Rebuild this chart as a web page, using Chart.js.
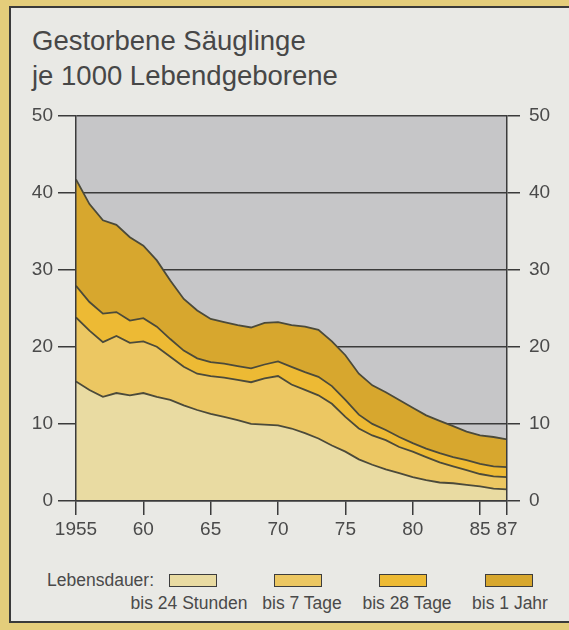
<!DOCTYPE html>
<html lang="de">
<head>
<meta charset="utf-8">
<title>Gestorbene Säuglinge je 1000 Lebendgeborene</title>
<script src="https://cdn.jsdelivr.net/npm/chart.js@4.4.1/dist/chart.umd.min.js"></script>
<style>
  html, body { margin: 0; padding: 0; overflow: hidden; }
  html, body { background: #e9e9e5; }
  body {
    width: 569px; height: 630px; position: relative;
    font-family: "Liberation Sans", Arial, sans-serif;
    color: #404040;
  }
  .strip { position: absolute; background: #e4cd7b; }
  #panel {
    position: absolute; left: 9px; top: 6px; width: 640px; height: 613px;
    background: #e9e9e5;
    border-left: 2px solid #3a3a3a; border-top: 2px solid #3a3a3a; border-bottom: 2px solid #3a3a3a;
  }
  #title {
    position: absolute; left: 32px; top: 23px;
    font-size: 27.5px; line-height: 35px; color: #474747;
  }
  #chart { position: absolute; left: 0; top: 95px; }
  .leg { position: absolute; font-size: 17.5px; color: #4a4a4a; white-space: nowrap; }
  .box { position: absolute; height: 11px; border: 1.5px solid #3d3d3d; }
</style>
</head>
<body>
<div class="strip" style="left:0;top:0;width:700px;height:6px"></div>
<div class="strip" style="left:0;top:0;width:9px;height:700px"></div>
<div class="strip" style="left:0;top:621px;width:700px;height:80px"></div>
<div id="panel"></div>
<div id="title">Gestorbene Säuglinge<br>je 1000 Lebendgeborene</div>
<canvas id="chart" width="569" height="450"></canvas>
<div id="legend"></div>

<script>
// --- Daten (Gestorbene je 1000 Lebendgeborene, kumuliert nach Lebensdauer) ---
const years = [1955, 1956, 1957, 1958, 1959, 1960, 1961, 1962, 1963, 1964, 1965,
               1966, 1967, 1968, 1969, 1970, 1971, 1972, 1973, 1974, 1975, 1976,
               1977, 1978, 1979, 1980, 1981, 1982, 1983, 1984, 1985, 1986, 1987];

const bis24Stunden = [15.5, 14.4, 13.5, 14.0, 13.7, 14.0, 13.5, 13.1, 12.4, 11.8, 11.3,
                      10.9, 10.5, 10.0, 9.9, 9.8, 9.4, 8.8, 8.1, 7.2, 6.4, 5.4,
                      4.7, 4.1, 3.6, 3.1, 2.7, 2.4, 2.3, 2.1, 1.9, 1.6, 1.5];
const bis7Tage = [23.8, 22.1, 20.6, 21.4, 20.5, 20.7, 20.0, 18.7, 17.4, 16.5, 16.2,
                  16.0, 15.7, 15.4, 15.9, 16.2, 15.1, 14.4, 13.7, 12.6, 10.9, 9.4,
                  8.5, 7.9, 7.0, 6.4, 5.7, 5.0, 4.5, 4.0, 3.5, 3.2, 3.1];
const bis28Tage = [27.9, 25.8, 24.3, 24.5, 23.4, 23.7, 22.6, 21.0, 19.5, 18.5, 18.0,
                   17.8, 17.5, 17.2, 17.7, 18.1, 17.4, 16.7, 16.1, 14.9, 13.1, 11.2,
                   10.0, 9.2, 8.3, 7.5, 6.8, 6.2, 5.7, 5.3, 4.8, 4.5, 4.4];
const bis1Jahr = [41.7, 38.5, 36.4, 35.8, 34.2, 33.1, 31.2, 28.6, 26.2, 24.7, 23.6,
                  23.2, 22.8, 22.5, 23.1, 23.2, 22.8, 22.6, 22.2, 20.7, 18.9, 16.5,
                  15.0, 14.1, 13.1, 12.1, 11.1, 10.4, 9.7, 9.0, 8.5, 8.3, 8.0];

const seriesLabels = ['bis 24 Stunden', 'bis 7 Tage', 'bis 28 Tage', 'bis 1 Jahr'];
const seriesColors = ['#e9dba2', '#ecc762', '#edba34', '#d7a72e'];

const yearTicks = [1955, 1960, 1965, 1970, 1975, 1980, 1985, 1987];
const yearTickLabels = ['1955', '60', '65', '70', '75', '80', '85', '87'];
const valueTicks = [0, 10, 20, 30, 40, 50];

const lineColor = '#4b4a3a';
const axisColor = '#3b3b3b';
const plotGray = '#c6c6c8';

// --- Legende (HTML) ---
const legend = document.getElementById('legend');
const lebens = document.createElement('div');
lebens.className = 'leg';
lebens.style.left = '47px';
lebens.style.top = '570px';
lebens.textContent = 'Lebensdauer:';
legend.appendChild(lebens);

const boxLefts = [169, 274, 379, 485];
const labelCenters = [189, 302, 407, 510];
seriesLabels.forEach((lab, i) => {
    const b = document.createElement('div');
    b.className = 'box';
    b.style.left = boxLefts[i] + 'px';
    b.style.top = '574px';
    b.style.width = '46px';
    b.style.background = seriesColors[i];
    legend.appendChild(b);

    const t = document.createElement('div');
    t.className = 'leg';
    t.style.top = '593px';
    t.style.left = labelCenters[i] + 'px';
    t.style.transform = 'translateX(-50%)';
    t.textContent = lab;
    legend.appendChild(t);
});

// --- Diagramm ---
Chart.defaults.font.family = '"Liberation Sans", Arial, sans-serif';
Chart.defaults.color = '#4a4a4a';

const plotBackground = {
    id: 'plotBackground',
    beforeDraw(chart) {
        const { ctx, chartArea: a } = chart;
        ctx.save();
        ctx.fillStyle = plotGray;
        ctx.fillRect(a.left, a.top, a.right - a.left, a.bottom - a.top);
        ctx.restore();
    }
};

const series = [bis24Stunden, bis7Tage, bis28Tage, bis1Jahr];

new Chart(document.getElementById('chart'), {
    type: 'line',
    data: {
        labels: years,
        datasets: series.map((vals, i) => ({
            label: seriesLabels[i],
            data: vals.map((v, j) => ({ x: years[j], y: v })),
            borderColor: lineColor,
            borderWidth: 1.8,
            backgroundColor: seriesColors[i],
            fill: i === 0 ? 'origin' : '-1',
            pointRadius: 0,
            tension: 0
        }))
    },
    options: {
        responsive: false,
        animation: false,
        devicePixelRatio: 1,
        layout: { padding: { top: 19, left: 0, right: 0, bottom: 0 } },
        plugins: {
            legend: { display: false },
            tooltip: { enabled: false }
        },
        scales: {
            x: {
                type: 'linear',
                min: 1955,
                max: 1987,
                afterBuildTicks: s => { s.ticks = yearTicks.map(v => ({ value: v })); },
                afterFit: s => { s.height = 44; },
                grid: { drawOnChartArea: false, drawTicks: true, tickLength: 14, color: axisColor, lineWidth: 1.5 },
                border: { display: true, color: axisColor, width: 1.5, z: 1 },
                ticks: {
                    autoSkip: false, maxRotation: 0, padding: 3,
                    font: { size: 19 },
                    callback: v => yearTickLabels[yearTicks.indexOf(v)]
                }
            },
            y: {
                position: 'left',
                min: 0,
                max: 50,
                afterBuildTicks: s => { s.ticks = valueTicks.map(v => ({ value: v })); },
                afterFit: s => { s.width = 76; },
                grid: { drawTicks: true, tickLength: 18, color: axisColor, lineWidth: 1.5 },
                border: { display: true, color: axisColor, width: 1.5, z: 1 },
                ticks: { padding: 5, font: { size: 19 } }
            },
            y2: {
                position: 'right',
                min: 0,
                max: 50,
                afterBuildTicks: s => { s.ticks = valueTicks.map(v => ({ value: v })); },
                afterFit: s => { s.width = 62; },
                grid: { drawOnChartArea: false, drawTicks: true, tickLength: 13, color: axisColor, lineWidth: 1.5 },
                border: { display: true, color: axisColor, width: 1.5, z: 1 },
                ticks: { padding: 9, font: { size: 19 } }
            }
        }
    },
    plugins: [plotBackground]
});
</script>
</body>
</html>
